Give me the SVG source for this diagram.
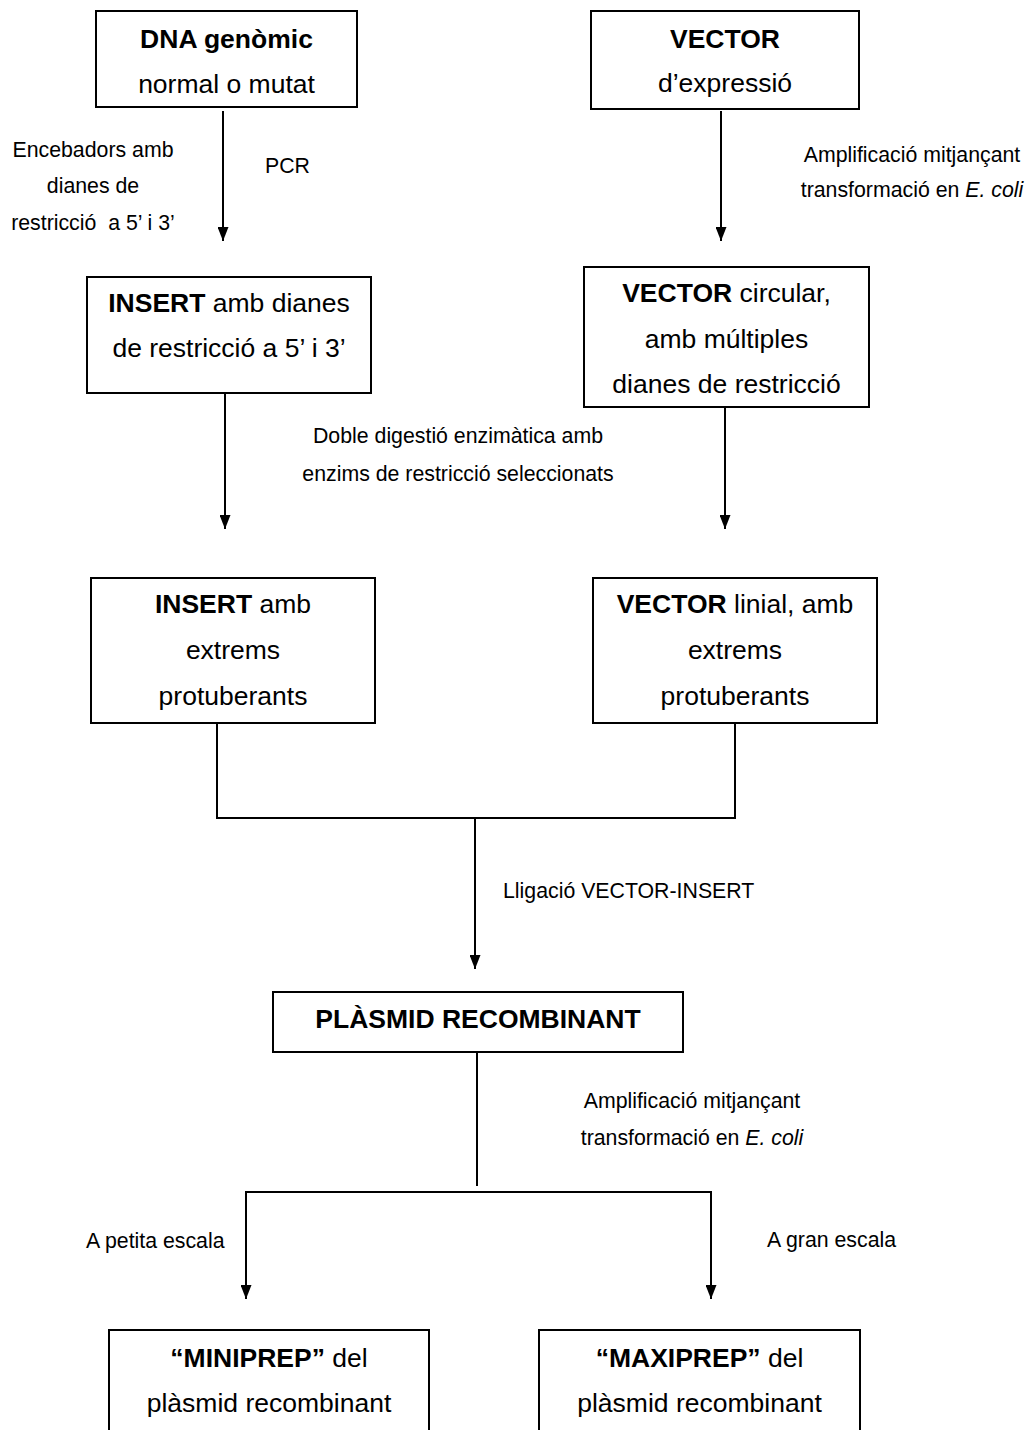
<svg xmlns="http://www.w3.org/2000/svg" width="1031" height="1430" viewBox="0 0 1031 1430">
<style>
.box{fill:#fff;stroke:#000;stroke-width:2}
.t{font-family:"Liberation Sans",Arial,sans-serif;font-size:26.5px;fill:#000;text-anchor:middle}
.b{font-weight:bold}
.l{font-family:"Liberation Sans",Arial,sans-serif;font-size:21.3px;fill:#000}
.c{text-anchor:middle}
.ln{fill:none;stroke:#000;stroke-width:2}
</style>
<defs>
<marker id="ah" markerUnits="userSpaceOnUse" markerWidth="14" markerHeight="11" refX="14" refY="5.5" orient="auto">
<path d="M0,0 L14,5.5 L0,11 z" fill="#000"/>
</marker>
</defs>
<rect width="1031" height="1430" fill="#fff"/>

<g id="connectors">
<line class="ln" x1="223" y1="111" x2="223" y2="241" marker-end="url(#ah)"/>
<line class="ln" x1="721" y1="111" x2="721" y2="241" marker-end="url(#ah)"/>
<line class="ln" x1="225" y1="393" x2="225" y2="529" marker-end="url(#ah)"/>
<line class="ln" x1="725" y1="407" x2="725" y2="529" marker-end="url(#ah)"/>
<path class="ln" d="M217,723 V818 H735 V723"/>
<line class="ln" x1="475" y1="818" x2="475" y2="969" marker-end="url(#ah)"/>
<line class="ln" x1="477" y1="1052" x2="477" y2="1186"/>
<path class="ln" d="M245,1192 H712"/>
<line class="ln" x1="246" y1="1191" x2="246" y2="1299" marker-end="url(#ah)"/>
<line class="ln" x1="711" y1="1191" x2="711" y2="1299" marker-end="url(#ah)"/>
</g>

<g id="labels">
<text class="l c" x="93" y="157">Encebadors amb</text>
<text class="l c" x="93" y="193">dianes de</text>
<text class="l c" x="93" y="230" xml:space="preserve">restricció  a 5’ i 3’</text>
<text class="l" x="265" y="173">PCR</text>
<text class="l c" x="912" y="162">Amplificació mitjançant</text>
<text class="l c" x="912" y="197">transformació en <tspan font-style="italic">E. coli</tspan></text>
<text class="l c" x="458" y="443">Doble digestió enzimàtica amb</text>
<text class="l c" x="458" y="481">enzims de restricció seleccionats</text>
<text class="l" x="503" y="898">Lligació VECTOR-INSERT</text>
<text class="l c" x="692" y="1108">Amplificació mitjançant</text>
<text class="l c" x="692" y="1145">transformació en <tspan font-style="italic">E. coli</tspan></text>
<text class="l" x="86" y="1248">A petita escala</text>
<text class="l" x="767" y="1247">A gran escala</text>
</g>

<g id="dna">
<rect class="box" x="96" y="11" width="261" height="96"/>
<text class="t b" x="226.5" y="48">DNA genòmic</text>
<text class="t" x="226.5" y="93">normal o mutat</text>
</g>

<g id="vector">
<rect class="box" x="591" y="11" width="268" height="98"/>
<text class="t b" x="725" y="48">VECTOR</text>
<text class="t" x="725" y="92">d’expressió</text>
</g>

<g id="insert1">
<rect class="box" x="87" y="277" width="284" height="116"/>
<text class="t" x="229" y="312"><tspan font-weight="bold">INSERT</tspan> amb dianes</text>
<text class="t" x="229" y="357">de restricció a 5’ i 3’</text>
</g>

<g id="vector-circular">
<rect class="box" x="584" y="267" width="285" height="140"/>
<text class="t" x="726.5" y="302"><tspan font-weight="bold">VECTOR</tspan> circular,</text>
<text class="t" x="726.5" y="348">amb múltiples</text>
<text class="t" x="726.5" y="393">dianes de restricció</text>
</g>

<g id="insert2">
<rect class="box" x="91" y="578" width="284" height="145"/>
<text class="t" x="233" y="613"><tspan font-weight="bold">INSERT</tspan> amb</text>
<text class="t" x="233" y="659">extrems</text>
<text class="t" x="233" y="705">protuberants</text>
</g>

<g id="vector-linial">
<rect class="box" x="593" y="578" width="284" height="145"/>
<text class="t" x="735" y="613"><tspan font-weight="bold">VECTOR</tspan> linial, amb</text>
<text class="t" x="735" y="659">extrems</text>
<text class="t" x="735" y="705">protuberants</text>
</g>

<g id="plasmid">
<rect class="box" x="273" y="992" width="410" height="60"/>
<text class="t b" x="478" y="1028">PLÀSMID RECOMBINANT</text>
</g>

<g id="miniprep">
<rect class="box" x="109" y="1330" width="320" height="120"/>
<text class="t" x="269" y="1367"><tspan font-weight="bold">“MINIPREP”</tspan> del</text>
<text class="t" x="269" y="1412">plàsmid recombinant</text>
</g>

<g id="maxiprep">
<rect class="box" x="539" y="1330" width="321" height="120"/>
<text class="t" x="699.5" y="1367"><tspan font-weight="bold">“MAXIPREP”</tspan> del</text>
<text class="t" x="699.5" y="1412">plàsmid recombinant</text>
</g>
</svg>
